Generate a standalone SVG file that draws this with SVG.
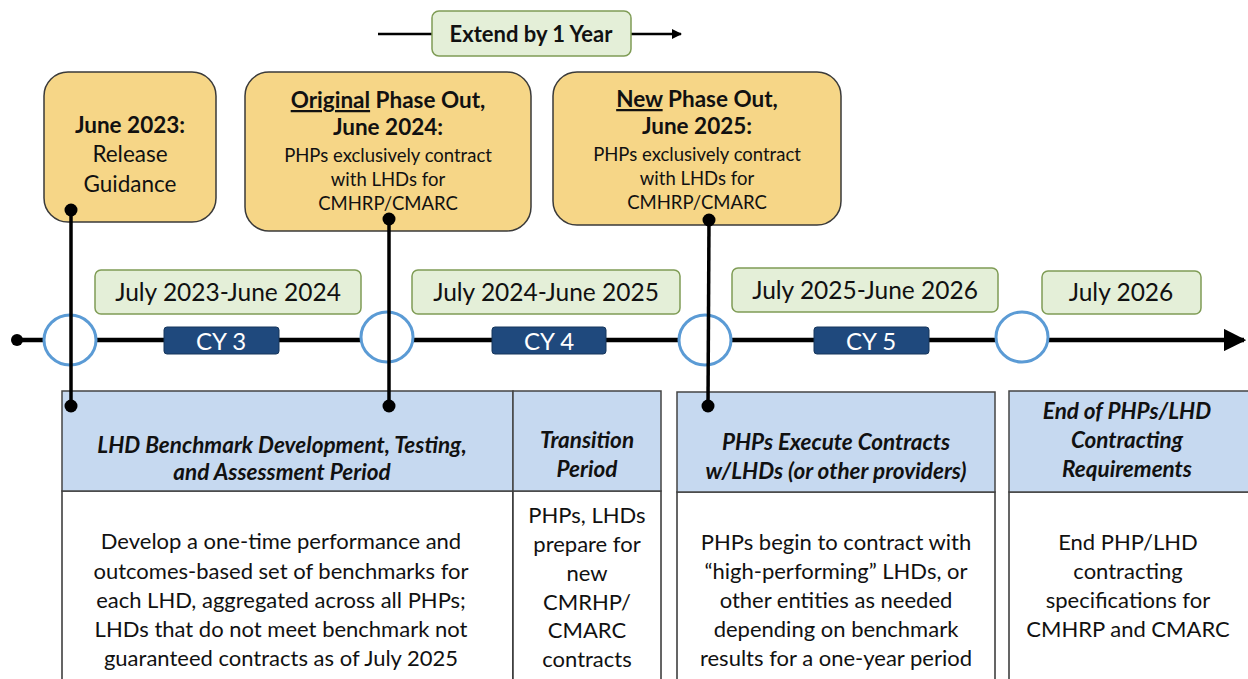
<svg xmlns="http://www.w3.org/2000/svg" width="1248" height="679" viewBox="0 0 1248 679">
<style>
text{font-family:Lato,"Open Sans","Liberation Sans",sans-serif;fill:#111;text-anchor:middle}
.gold{fill:#f6d687;stroke:#3a3a3a;stroke-width:1.5}
.green{fill:#e4efd8;stroke:#7f9c55;stroke-width:1.5}
.cy{fill:#1f497d;stroke:#16365c;stroke-width:1}
.cyt{fill:#fff;font-size:24px}
.ring{fill:#fff;stroke:#5b9bd5;stroke-width:3}
.hdr{fill:#c6d9f0;stroke:#444;stroke-width:1.5}
.body{fill:#fff;stroke:#333;stroke-width:1.5}
.ht{font-weight:bold;font-style:italic;font-size:22.5px}
.bt{font-size:22px}
.gt{font-size:24.5px}
.gh{font-size:22.5px}
.gs{font-size:18.5px}
.b{font-weight:bold}
.conn{stroke:#000;stroke-width:3.5;fill:none}
</style>
<defs>
<marker id="arrS" viewBox="0 0 10 10" refX="9" refY="5" markerWidth="4" markerHeight="4" orient="auto"><path d="M0,0 L10,5 L0,10 z" fill="#000"/></marker>
<marker id="arrL" viewBox="0 0 10 10" refX="9" refY="5" markerWidth="5" markerHeight="5" orient="auto"><path d="M0,0 L10,5 L0,10 z" fill="#000"/></marker>
</defs>

<g id="connectors">
<line x1="378" y1="34" x2="432" y2="34" stroke="#000" stroke-width="2.5"/>
<line x1="631" y1="34" x2="681" y2="34" stroke="#000" stroke-width="2.5" marker-end="url(#arrS)"/>
<line x1="17" y1="340" x2="1244" y2="340" stroke="#000" stroke-width="4.5" marker-end="url(#arrL)"/>
<circle cx="17" cy="340" r="6" fill="#000"/>
</g>

<g id="extend">
<rect class="green" x="432" y="11" width="199" height="45" rx="7"/>
<text x="531" y="42" font-size="22" class="b">Extend by 1 Year</text>
</g>

<g id="ring1"><ellipse class="ring" cx="70" cy="340" rx="26" ry="25"/></g>
<g id="ring2"><ellipse class="ring" cx="387" cy="337" rx="26" ry="25"/></g>
<g id="ring3"><ellipse class="ring" cx="705" cy="340" rx="26" ry="25"/></g>
<g id="ring4"><ellipse class="ring" cx="1022" cy="337" rx="26" ry="25"/></g>

<g id="cy3"><rect class="cy" x="164" y="327" width="115" height="27" rx="3"/><text class="cyt" x="221" y="350">CY 3</text></g>
<g id="cy4"><rect class="cy" x="492" y="327" width="114" height="27" rx="3"/><text class="cyt" x="549" y="350">CY 4</text></g>
<g id="cy5"><rect class="cy" x="814" y="327" width="115" height="27" rx="3"/><text class="cyt" x="871" y="350">CY 5</text></g>

<g id="period1"><rect class="green" x="95" y="270" width="266" height="44" rx="6"/><text class="gt" x="228" y="301">July 2023-June 2024</text></g>
<g id="period2"><rect class="green" x="412" y="270" width="268" height="44" rx="6"/><text class="gt" x="546" y="301">July 2024-June 2025</text></g>
<g id="period3"><rect class="green" x="732" y="268" width="266" height="44" rx="6"/><text class="gt" x="865" y="299">July 2025-June 2026</text></g>
<g id="period4"><rect class="green" x="1042" y="271" width="159" height="43" rx="6"/><text class="gt" x="1121" y="301">July 2026</text></g>

<g id="event1">
<rect class="gold" x="44" y="72" width="172" height="150" rx="24"/>
<text class="gh" x="130" y="133"><tspan class="b">June 2023:</tspan><tspan x="130" dy="29">Release</tspan><tspan x="130" dy="30">Guidance</tspan></text>
</g>
<g id="event2">
<rect class="gold" x="245" y="72" width="286" height="159" rx="24"/>
<text x="388" y="108" class="gh b"><tspan text-decoration="underline">Original</tspan> Phase Out,</text>
<text x="388" y="135" class="gh b">June 2024:</text>
<text x="388" y="162" class="gs">PHPs exclusively contract</text>
<text x="388" y="186" class="gs">with LHDs for</text>
<text x="388" y="210" class="gs">CMHRP/CMARC</text>
</g>
<g id="event3">
<rect class="gold" x="553" y="72" width="288" height="153" rx="24"/>
<text x="697" y="107" class="gh b"><tspan text-decoration="underline">New</tspan> Phase Out,</text>
<text x="697" y="134" class="gh b">June 2025:</text>
<text x="697" y="161" class="gs">PHPs exclusively contract</text>
<text x="697" y="185" class="gs">with LHDs for</text>
<text x="697" y="209" class="gs">CMHRP/CMARC</text>
</g>

<g id="period-box1">
<rect class="body" x="62" y="491" width="451" height="200"/>
<rect class="hdr" x="62" y="391" width="451" height="100"/>
<text class="ht" x="282" y="453">LHD Benchmark Development, Testing,</text>
<text class="ht" x="282" y="480">and Assessment Period</text>
<text class="bt" x="281" y="549">Develop a one-time performance and</text>
<text class="bt" x="281" y="579">outcomes-based set of benchmarks for</text>
<text class="bt" x="281" y="608">each LHD, aggregated across all PHPs;</text>
<text class="bt" x="281" y="637">LHDs that do not meet benchmark not</text>
<text class="bt" x="281" y="666">guaranteed contracts as of July 2025</text>
</g>
<g id="period-box2">
<rect class="body" x="513" y="491" width="148" height="200"/>
<rect class="hdr" x="513" y="391" width="148" height="100"/>
<text class="ht" x="587" y="448">Transition</text>
<text class="ht" x="587" y="477">Period</text>
<text class="bt" x="587" y="523">PHPs, LHDs</text>
<text class="bt" x="587" y="552">prepare for</text>
<text class="bt" x="587" y="581">new</text>
<text class="bt" x="587" y="610">CMRHP/</text>
<text class="bt" x="587" y="638">CMARC</text>
<text class="bt" x="587" y="667">contracts</text>
</g>
<g id="period-box3">
<rect class="body" x="677" y="492" width="318" height="200"/>
<rect class="hdr" x="677" y="392" width="318" height="100"/>
<text class="ht" x="836" y="450">PHPs Execute Contracts</text>
<text class="ht" x="836" y="479">w/LHDs (or other providers)</text>
<text class="bt" x="836" y="550">PHPs begin to contract with</text>
<text class="bt" x="836" y="579">“high-performing” LHDs, or</text>
<text class="bt" x="836" y="608">other entities as needed</text>
<text class="bt" x="836" y="637">depending on benchmark</text>
<text class="bt" x="836" y="666">results for a one-year period</text>
</g>
<g id="period-box4">
<rect class="body" x="1009" y="492" width="245" height="200"/>
<rect class="hdr" x="1009" y="391" width="245" height="101"/>
<text class="ht" x="1127" y="419">End of PHPs/LHD</text>
<text class="ht" x="1127" y="448">Contracting</text>
<text class="ht" x="1127" y="477">Requirements</text>
<text class="bt" x="1128" y="550">End PHP/LHD</text>
<text class="bt" x="1128" y="579">contracting</text>
<text class="bt" x="1128" y="608">specifications for</text>
<text class="bt" x="1128" y="637">CMHRP and CMARC</text>
</g>

<g id="leaders">
<line class="conn" x1="71" y1="210" x2="71" y2="406"/>
<circle cx="71" cy="210" r="6.5" fill="#000"/><circle cx="71" cy="406" r="6.5" fill="#000"/>
<line class="conn" x1="389" y1="219" x2="389" y2="406"/>
<circle cx="389" cy="219" r="6.5" fill="#000"/><circle cx="389" cy="406" r="6.5" fill="#000"/>
<line class="conn" x1="709" y1="220" x2="708" y2="406"/>
<circle cx="709" cy="220" r="6.5" fill="#000"/><circle cx="708" cy="406" r="6.5" fill="#000"/>
</g>
</svg>
